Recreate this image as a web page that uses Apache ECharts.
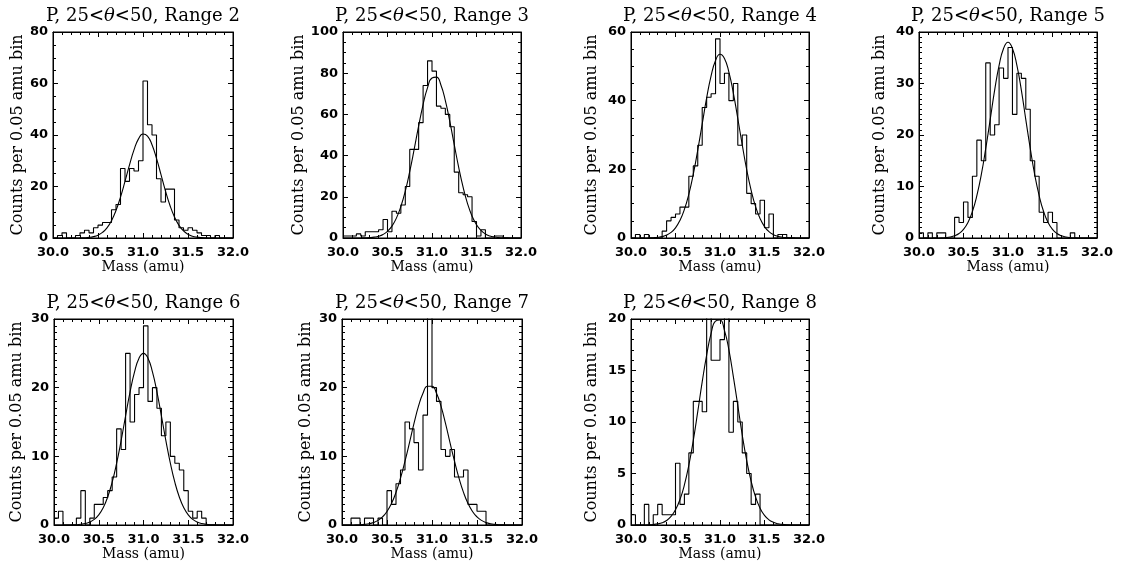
<!DOCTYPE html>
<html>
<head>
<meta charset="utf-8">
<script src="https://cdn.jsdelivr.net/npm/echarts@6/dist/echarts.min.js"></script>
<style>
html, body { margin: 0; padding: 0; background: #ffffff; }
#chart { width: 1124px; height: 569px; }
</style>
</head>
<body>
<div id="chart"></div>
<script>
// ---- data ----
const binStart = 30.0;
const binWidth = 0.05;
const rangeNames = ['Range 2', 'Range 3', 'Range 4', 'Range 5', 'Range 6', 'Range 7', 'Range 8'];
const xTickLabels = ['30.0', '30.5', '31.0', '31.5', '32.0'];
const yMaxes = [80, 100, 60, 40, 30, 30, 20];
const yIntervals = [20, 20, 20, 10, 10, 10, 5];

// histogram counts per 0.05 amu bin (30.00 .. 31.95)
const histRange2 = [0,1,2,0,0,1,2,3,2,4,5,6,6,11,13,27,22,27,26,30,61,44,40,23,14,19,19,7,4,3,4,3,2,1,1,0,1,0,0,0];
const histRange3 = [1,1,1,2,1,3,3,3,4,9,3,13,12,16,25,43,43,56,74,86,81,64,63,60,54,32,22,21,20,8,1,4,0,0,1,1,0,0,0,0];
const histRange4 = [0,1,0,1,0,0,0,2,5,6,7,9,9,18,21,27,38,41,42,58,45,48,40,45,27,30,13,10,7,11,3,7,0,1,1,0,0,0,0,0];
const histRange5 = [1,0,1,0,1,1,0,0,4,3,7,4,12,19,15,34,20,22,33,31,37,24,32,31,25,15,12,5,3,5,3,0,0,0,1,0,0,0,0,0];
const histRange6 = [1,2,0,0,0,1,5,0,1,3,3,4,5,7,14,11,25,15,19,20,29,18,20,17,13,15,10,9,8,5,2,1,2,1,0,0,0,0,0,0];
const histRange7 = [0,0,1,1,0,1,1,0,1,0,5,3,6,8,15,14,12,8,16,34,20,18,11,10,11,7,7,8,3,3,2,2,0,0,0,0,0,0,0,0];
const histRange8 = [1,0,0,2,0,1,2,1,1,1,6,2,3,7,12,12,11,21,16,16,18,21,9,12,10,7,5,2,3,0,0,0,0,0,0,0,0,0,0,0];

// fitted curve read at 30.00, 30.05, ... 32.00
const fitRange2 = [0,0,0,0,0.01,0.01,0.04,0.1,0.23,0.53,1.11,2.16,3.94,6.73,10.7,15.9,22.0,28.4,34.2,38.5,40.4,39.6,36.2,30.9,24.6,18.2,12.6,8.17,4.92,2.77,1.46,0.71,0.33,0.14,0.06,0.02,0.01,0,0,0,0];
const fitRange3 = [0,0,0,0.01,0.03,0.08,0.19,0.42,0.87,1.73,3.25,5.76,9.65,15.3,22.8,32.3,43.1,54.4,64.8,73.0,77.7,78.1,74.3,66.7,56.6,45.3,34.3,24.6,16.6,10.6,6.41,3.66,1.97,1.0,0.48,0.22,0.09,0.04,0.02,0.01,0];
const fitRange4 = [0,0,0,0.01,0.03,0.08,0.19,0.41,0.84,1.63,2.97,5.12,8.33,12.8,18.6,25.6,33.2,40.8,47.2,51.7,53.5,52.3,48.3,42.2,34.8,27.1,19.9,13.9,9.12,5.67,3.33,1.85,0.97,0.48,0.22,0.1,0.04,0.02,0.01,0,0];
const fitRange5 = [0,0,0,0,0.01,0.03,0.08,0.19,0.42,0.87,1.67,3.02,5.14,8.22,12.3,17.4,23.0,28.7,33.5,36.8,38.0,36.8,33.5,28.7,23.0,17.4,12.3,8.22,5.14,3.02,1.67,0.87,0.42,0.19,0.08,0.03,0.01,0,0,0,0];
const fitRange6 = [0,0,0,0,0.02,0.04,0.1,0.21,0.42,0.81,1.47,2.52,4.08,6.23,9.01,12.3,15.9,19.4,22.3,24.3,25.0,24.3,22.3,19.4,15.9,12.3,9.01,6.23,4.08,2.52,1.47,0.81,0.42,0.21,0.1,0.04,0.02,0,0,0,0];
const fitRange7 = [0,0,0,0.02,0.04,0.09,0.18,0.36,0.67,1.18,1.97,3.14,4.75,6.82,9.3,12.0,14.8,17.3,19.2,20.2,20.2,19.2,17.3,14.8,12.0,9.3,6.82,4.75,3.14,1.97,1.18,0.67,0.36,0.18,0.09,0.04,0.02,0,0,0,0];
const fitRange8 = [0,0,0,0,0.02,0.05,0.11,0.22,0.44,0.83,1.47,2.46,3.89,5.82,8.22,11.0,13.9,16.5,18.6,19.8,19.9,18.9,17.0,14.4,11.6,8.74,6.26,4.24,2.71,1.63,0.93,0.5,0.26,0.12,0.06,0.02,0,0,0,0,0];

const hists = [histRange2, histRange3, histRange4, histRange5, histRange6, histRange7, histRange8];
const fits = [fitRange2, fitRange3, fitRange4, fitRange5, fitRange6, fitRange7, fitRange8];

// ---- layout (pixels) ----
const layout = [
  {left: 53,  top: 32,  width: 180, height: 206, nameGap: 35},
  {left: 343, top: 32,  width: 178, height: 206, nameGap: 44},
  {left: 631, top: 32,  width: 178, height: 206, nameGap: 39},
  {left: 919, top: 32,  width: 178, height: 206, nameGap: 39},
  {left: 54,  top: 319, width: 179, height: 206, nameGap: 37},
  {left: 342, top: 319, width: 180, height: 206, nameGap: 36},
  {left: 631, top: 319, width: 178, height: 206, nameGap: 39}
];

const serif = '"DejaVu Serif", serif';
const sans = '"DejaVu Sans", sans-serif';
const black = '#000000';

const grids = [], xAxes = [], yAxes = [], series = [], titles = [];

function round(v) { return Math.round(v * 1000) / 1000; }

layout.forEach((L, k) => {
  grids.push({
    left: L.left, top: L.top, width: L.width, height: L.height,
    show: true, borderColor: black, borderWidth: 1, backgroundColor: 'transparent',
    containLabel: false
  });
  const yMinor = yIntervals[k] === 20 ? 4 : (yIntervals[k] === 10 ? 10 : 5);
  const baseX = {
    type: 'value', gridIndex: k, min: 30, max: 32, interval: 0.5,
    axisLine: {show: true, onZero: false, lineStyle: {color: black, width: 1}},
    axisTick: {show: true, inside: true, length: 5, lineStyle: {color: black, width: 1}},
    minorTick: {show: true, splitNumber: 5, length: 3, lineStyle: {color: black, width: 1}},
    splitLine: {show: false}, minorSplitLine: {show: false}
  };
  xAxes.push(Object.assign({}, baseX, {
    position: 'bottom',
    name: 'Mass (amu)', nameLocation: 'middle', nameGap: 29,
    nameTextStyle: {fontFamily: serif, fontSize: 14, color: black, verticalAlign: 'middle'},
    axisLabel: {show: true, margin: 8, fontFamily: sans, fontSize: 13, fontWeight: 'bold', color: black,
      formatter: v => xTickLabels[Math.round((v - 30) / 0.5)] || ''}
  }));
  xAxes.push(Object.assign({}, baseX, {position: 'top', axisLabel: {show: false}}));

  const baseY = {
    type: 'value', gridIndex: k, min: 0, max: yMaxes[k], interval: yIntervals[k],
    axisLine: {show: true, onZero: false, lineStyle: {color: black, width: 1}},
    axisTick: {show: true, inside: true, length: 5, lineStyle: {color: black, width: 1}},
    minorTick: {show: true, splitNumber: yMinor, length: 3, lineStyle: {color: black, width: 1}},
    splitLine: {show: false}, minorSplitLine: {show: false}
  };
  yAxes.push(Object.assign({}, baseY, {
    position: 'left',
    name: 'Counts per 0.05 amu bin', nameLocation: 'middle', nameGap: L.nameGap, nameRotate: 90,
    nameTextStyle: {fontFamily: serif, fontSize: 16, color: black, verticalAlign: 'middle'},
    axisLabel: {show: true, margin: 5, fontFamily: sans, fontSize: 13, fontWeight: 'bold', color: black}
  }));
  yAxes.push(Object.assign({}, baseY, {position: 'right', axisLabel: {show: false}}));

  // histogram as steps from bin left edges
  const h = hists[k];
  const hData = h.map((v, i) => [round(binStart + i * binWidth), v]);
  hData.push([round(binStart + h.length * binWidth), h[h.length - 1]]);
  series.push({
    type: 'line', xAxisIndex: 2 * k, yAxisIndex: 2 * k, data: hData,
    step: 'end', symbol: 'none', clip: true, silent: true,
    lineStyle: {color: black, width: 1.1}
  });
  const f = fits[k];
  series.push({
    type: 'line', xAxisIndex: 2 * k, yAxisIndex: 2 * k,
    data: f.map((v, i) => [round(binStart + i * binWidth), v]),
    smooth: 0.5, symbol: 'none', clip: true, silent: true,
    lineStyle: {color: black, width: 1.1}
  });

  titles.push({
    text: 'P, 25<{i|θ}<50, ' + rangeNames[k],
    left: L.left + L.width / 2, top: L.top - 25, textAlign: 'center', padding: 0,
    textStyle: {
      fontFamily: serif, fontSize: 18, fontWeight: 'normal', color: black,
      rich: {i: {fontFamily: serif, fontSize: 18, fontStyle: 'italic', color: black}}
    }
  });
});

const chart = echarts.init(document.getElementById('chart'), null, {renderer: 'canvas'});
chart.setOption({
  animation: false,
  backgroundColor: '#ffffff',
  title: titles,
  grid: grids,
  xAxis: xAxes,
  yAxis: yAxes,
  series: series
});
</script>
</body>
</html>
